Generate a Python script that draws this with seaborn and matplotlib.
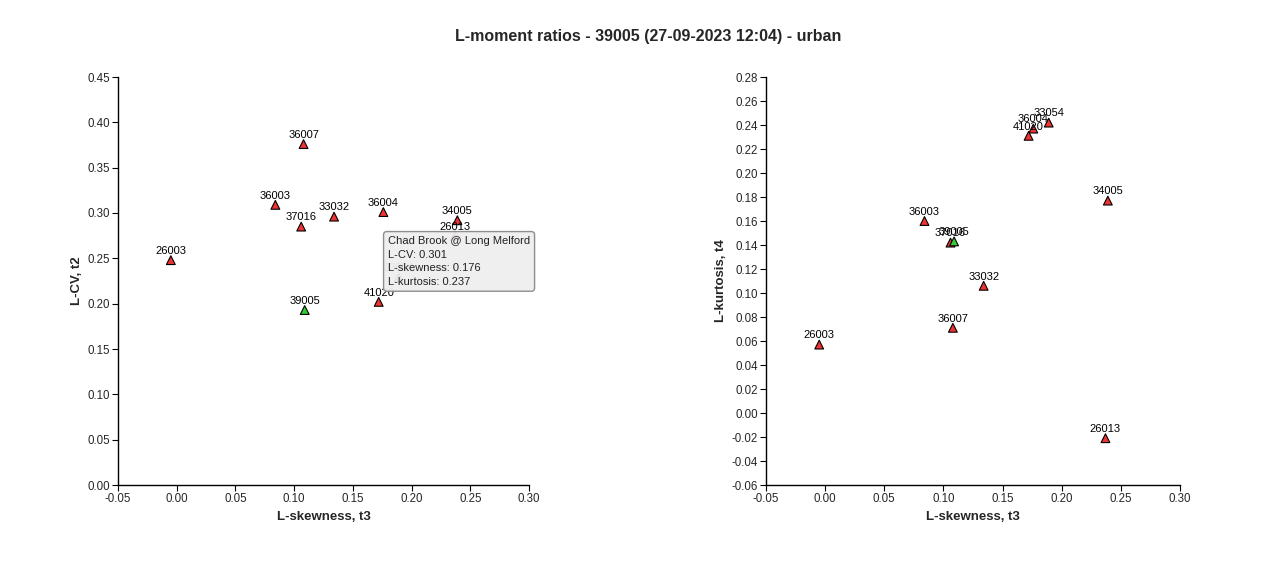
import matplotlib
matplotlib.use("Agg")
import matplotlib.pyplot as plt
import seaborn as sns
import pandas as pd

sns.set_style("white")
plt.rcParams['font.family'] = ['Liberation Sans', 'DejaVu Sans']

stations = ["26003", "36007", "36003", "37016", "33032", "36004", "34005", "26013", "41020", "33054", "39005"]
t3_skew = [-0.005, 0.108, 0.084, 0.106, 0.134, 0.176, 0.239, 0.237, 0.172, 0.189, 0.109]
t2_lcv = [0.248, 0.376, 0.309, 0.285, 0.296, 0.301, 0.292, 0.275, 0.202, 0.229, 0.193]
t4_kurt = [0.057, 0.071, 0.160, 0.142, 0.106, 0.237, 0.177, -0.021, 0.231, 0.242, 0.143]
role = ["pooled"] * 10 + ["target"]

title = "L-moment ratios - 39005 (27-09-2023 12:04) - urban"
tooltip_lines = ["Chad Brook @ Long Melford", "L-CV: 0.301", "L-skewness: 0.176", "L-kurtosis: 0.237"]

df = pd.DataFrame({"station": stations, "t3": t3_skew, "t2": t2_lcv, "t4": t4_kurt, "role": role})
palette = {"pooled": "#ee3333", "target": "#33cc33"}

fig = plt.figure(figsize=(12.79, 5.71), dpi=100)
ax1 = fig.add_axes([118 / 1279, 86 / 571, 411 / 1279, 408 / 571])
ax2 = fig.add_axes([766 / 1279, 86 / 571, 414 / 1279, 408 / 571])

def draw(ax, ycol, ylim, yticks, ylabel):
    order = df.sort_values("role").index
    sns.scatterplot(data=df.loc[order], x="t3", y=ycol, hue="role", palette=palette,
                    marker="^", s=40, edgecolor="black", linewidth=0.8, legend=False,
                    ax=ax, zorder=3)
    for _, r in df.iterrows():
        ax.annotate(r["station"], (r["t3"], r[ycol]), xytext=(0, 3), textcoords="offset points",
                    ha="center", va="bottom", fontsize=8, color="black", zorder=4)
    ax.set_xlim(-0.05, 0.30)
    ax.set_ylim(*ylim)
    ax.set_xticks([-0.05, 0.0, 0.05, 0.10, 0.15, 0.20, 0.25, 0.30])
    ax.set_xticklabels([f"{v:.2f}" for v in ax.get_xticks()])
    ax.set_yticks(yticks)
    ax.set_yticklabels([f"{v:.2f}" for v in yticks])
    ax.set_xlabel("L-skewness, t3", fontsize=9.5, fontweight="bold", labelpad=4)
    ax.set_ylabel(ylabel, fontsize=9.5, fontweight="bold", labelpad=3)
    for s in ["top", "right"]:
        ax.spines[s].set_visible(False)
    for s in ["left", "bottom"]:
        ax.spines[s].set_color("black")
        ax.spines[s].set_linewidth(1.0)
    ax.tick_params(axis="both", direction="out", length=4.5, width=0.8, color="black",
                   labelsize=8.3, pad=1.5, left=True, bottom=True)

draw(ax1, "t2", (0.0, 0.45), [i * 0.05 for i in range(10)], "L-CV, t2")
draw(ax2, "t4", (-0.06, 0.28), [-0.06 + i * 0.02 for i in range(18)], "L-kurtosis, t4")

ax1.text((388 - 118) / 411, (485 - 236) / 408, "\n".join(tooltip_lines), transform=ax1.transAxes,
         ha="left", va="top", fontsize=8, color="#222222", linespacing=1.45, zorder=10,
         bbox=dict(boxstyle="round,pad=0.4,rounding_size=0.3", facecolor="#efefef", edgecolor="#888888",
                   linewidth=1.0, alpha=0.95))

fig.text(648.5 / 1279, 1 - 36 / 571, title, ha="center", va="center", fontsize=11.5, fontweight="bold")

fig.savefig("out.png", dpi=100, facecolor="white")
